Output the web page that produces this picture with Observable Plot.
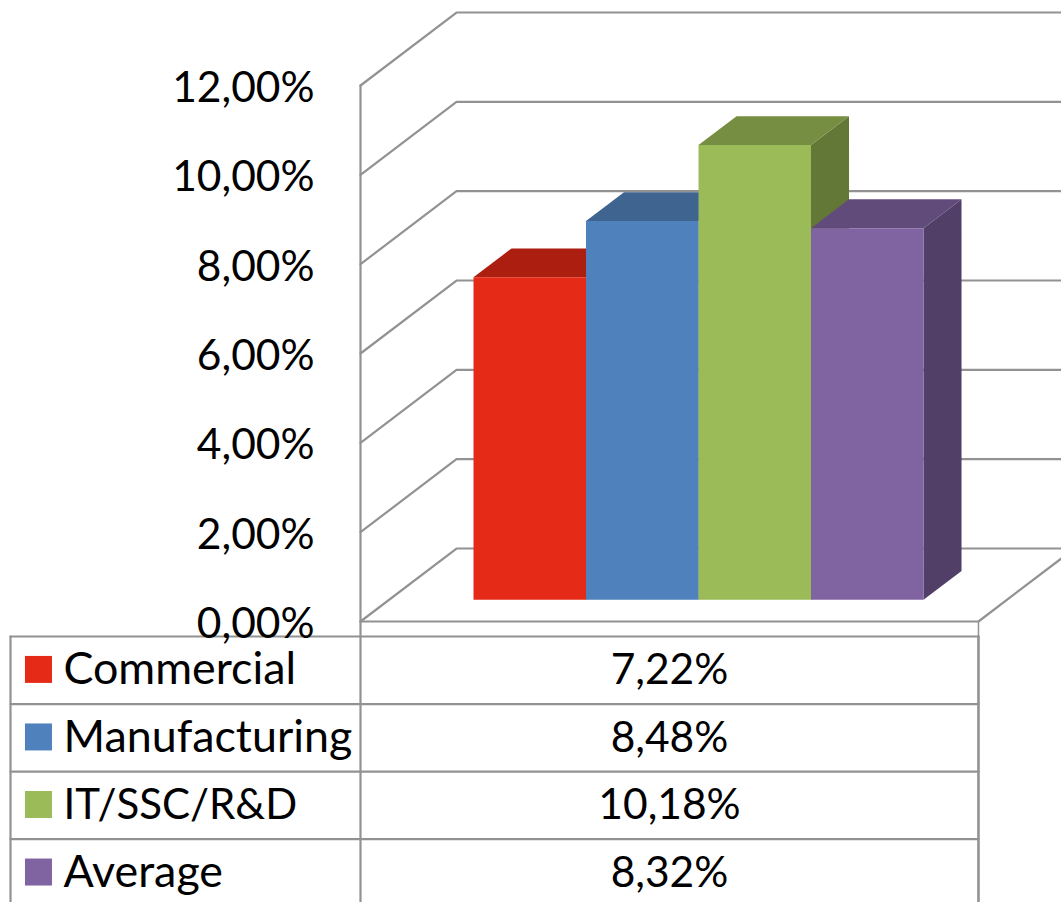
<!DOCTYPE html>
<html><head><meta charset="utf-8">
<script src="https://cdn.jsdelivr.net/npm/d3@7"></script>
<script src="https://cdn.jsdelivr.net/npm/@observablehq/plot@0.6"></script>
<style>html,body{margin:0;padding:0;background:#fff;overflow:hidden}svg{display:block}</style>
</head><body><div id="chart"></div>
<script>
const categories = ["Commercial", "Manufacturing", "IT/SSC/R&D", "Average"];
const values = [7.22, 8.48, 10.18, 8.32];
const valueLabels = ["7,22%", "8,48%", "10,18%", "8,32%"];
const axisTicks = [0, 2, 4, 6, 8, 10, 12];
const frontColors = ["#E52A17", "#4F81BD", "#9BBB59", "#8064A2"];
const topColors = ["#AC1F10", "#3F648F", "#768E42", "#604B7B"];
const sideColors = ["#8A190D", "#35547A", "#637737", "#513F68"];

// Oblique 3D projection, in data units (one bar width on x, one percent on y)
const WALL_X = 0.8533, WALL_Y = 1.634;
const BAR_START = 0.751, BAR_D0 = 0.297, BAR_D1 = 0.693;
const FLOOR = 5.493, X_MAX = 6.231;
const P = (c, v, d) => ({x: c + d * WALL_X, y: v + d * WALL_Y});

const GRID = "#929292";
const gridLines = axisTicks.map(v => [P(0, v, 0), P(0, v, 1), {x: X_MAX + 1, y: v + WALL_Y}]);
const poly = (pts, fill, extra = {}) => Plot.line(pts, {x: "x", y: "y", fill, stroke: "none", curve: "linear", ...extra});
const seg = (pts, sw = 2.2) => Plot.line(pts, {x: "x", y: "y", stroke: GRID, strokeWidth: sw, curve: "linear"});

const bars = values.flatMap((v, i) => {
  const c0 = BAR_START + i, c1 = c0 + 1;
  return [
    poly([P(c1, 0, BAR_D0), P(c1, 0, BAR_D1), P(c1, v, BAR_D1), P(c1, v, BAR_D0)], sideColors[i]),
    poly([P(c0, v, BAR_D0), P(c1, v, BAR_D0), P(c1, v, BAR_D1), P(c0, v, BAR_D1)], topColors[i]),
    poly([P(c0, 0, BAR_D0), P(c1, 0, BAR_D0), P(c1, v, BAR_D0), P(c0, v, BAR_D0)], frontColors[i])
  ];
});

// Data table below the plot, continuing the same scales downward
const TABLE_TOP = -0.336, ROW = 1.512, TABLE_BOTTOM = -6.3, TABLE_LEFT = -3.111;
const rowLine = i => TABLE_TOP - i * ROW;
const rows = categories.map((name, i) => ({name, label: valueLabels[i], color: frontColors[i], i}));
const baseline = d => rowLine(d.i) - 1.05;

const chart = Plot.plot({
  width: 1061, height: 902,
  marginLeft: 360, marginRight: 0, marginTop: 85, marginBottom: 281,
  x: {domain: [0, X_MAX], axis: null},
  y: {domain: [0, 12], axis: null},
  style: {background: "#fff", fontFamily: "Lato, Carlito, sans-serif", overflow: "hidden"},
  marks: [
    ...gridLines.map(g => seg(g)),
    seg([{x: 0, y: 12}, {x: 0, y: TABLE_BOTTOM}]),
    seg([P(0, 0, 0), P(FLOOR, 0, 0), P(FLOOR, 0, 1)]),
    seg([{x: FLOOR, y: 0}, {x: FLOOR, y: TABLE_TOP}], 1.5),
    seg([{x: FLOOR, y: TABLE_TOP}, {x: FLOOR, y: TABLE_BOTTOM}], 2.6),
    seg([{x: TABLE_LEFT, y: TABLE_TOP}, {x: TABLE_LEFT, y: TABLE_BOTTOM}]),
    ...rows.map(r => seg([{x: TABLE_LEFT, y: rowLine(r.i)}, {x: FLOOR, y: rowLine(r.i)}])),
    ...bars,
    Plot.rect(rows, {
      x1: () => -2.978, x2: () => -2.738,
      y1: d => baseline(d), y2: d => baseline(d) + 0.604,
      fill: "color"
    }),
    Plot.text(rows.filter(r => r.i !== 2), {x: () => -2.64, y: baseline, text: "name", textAnchor: "start", lineAnchor: "bottom", fontSize: 44.8, dy: 1, fill: "#000"}),
    Plot.text(rows.filter(r => r.i === 2), {x: () => -2.64, y: baseline, text: "name", textAnchor: "start", lineAnchor: "bottom", fontSize: 42, dy: 1, fill: "#000"}),
    Plot.text(rows, {x: () => FLOOR / 2, y: baseline, text: "label", textAnchor: "middle", lineAnchor: "bottom", fontSize: 42.5, dy: 1, fill: "#000"}),
    Plot.axisY({ticks: axisTicks, tickSize: 0, tickPadding: 46, fontSize: 42.5, dy: 3, tickFormat: d => d.toFixed(2).replace(".", ",") + "%", label: null, color: "#000", fill: "#000"})
  ]
});
document.getElementById("chart").append(chart);
</script>
</body></html>
